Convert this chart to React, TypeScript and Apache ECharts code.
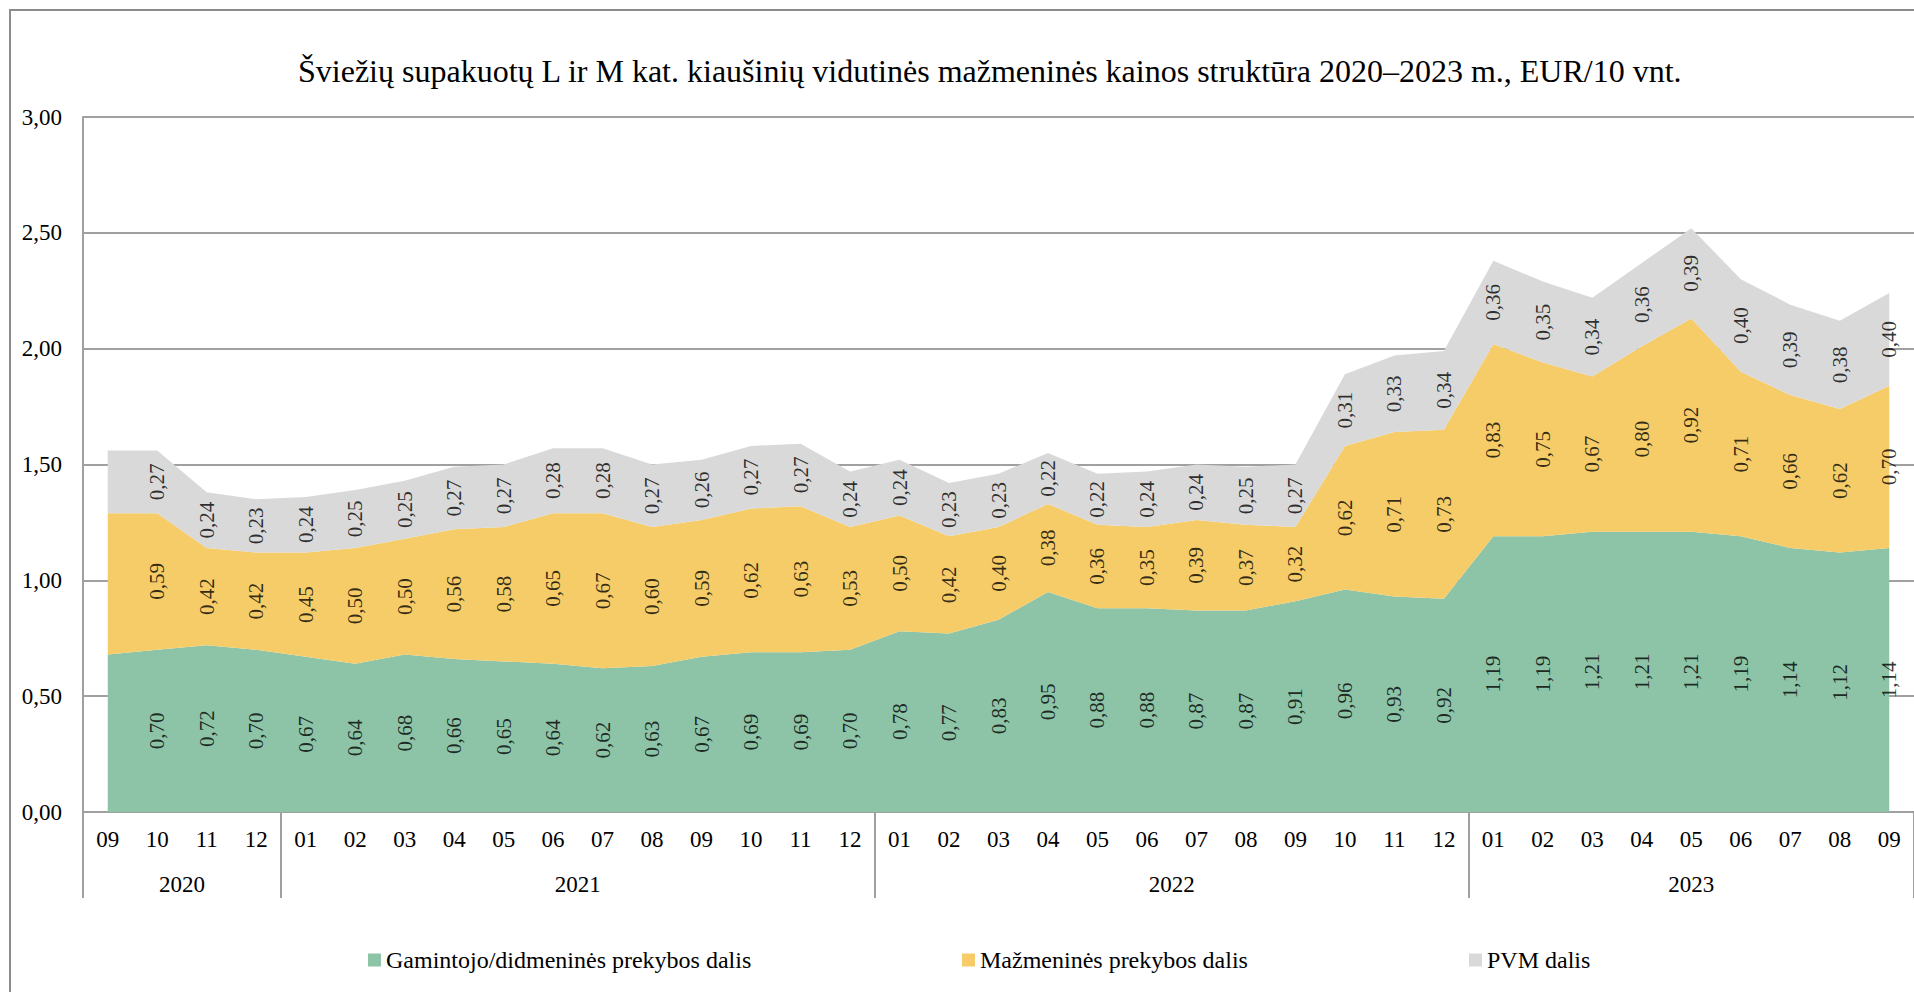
import React, { useEffect, useRef } from "react";
import * as echarts from "echarts";

const months = [
  "09", "10", "11", "12",
  "01", "02", "03", "04", "05", "06", "07", "08", "09", "10", "11", "12",
  "01", "02", "03", "04", "05", "06", "07", "08", "09", "10", "11", "12",
  "01", "02", "03", "04", "05", "06", "07", "08", "09",
];
const years = ["2020", "2021", "2022", "2023"];
const yearSpans = [4, 12, 12, 9];

const seriesNames = [
  "Gamintojo/didmeninės prekybos dalis",
  "Mažmeninės prekybos dalis",
  "PVM dalis",
];
const producer = [
  0.68, 0.70, 0.72, 0.70,
  0.67, 0.64, 0.68, 0.66, 0.65, 0.64, 0.62, 0.63, 0.67, 0.69, 0.69, 0.70,
  0.78, 0.77, 0.83, 0.95, 0.88, 0.88, 0.87, 0.87, 0.91, 0.96, 0.93, 0.92,
  1.19, 1.19, 1.21, 1.21, 1.21, 1.19, 1.14, 1.12, 1.14,
];
const retail = [
  0.61, 0.59, 0.42, 0.42,
  0.45, 0.50, 0.50, 0.56, 0.58, 0.65, 0.67, 0.60, 0.59, 0.62, 0.63, 0.53,
  0.50, 0.42, 0.40, 0.38, 0.36, 0.35, 0.39, 0.37, 0.32, 0.62, 0.71, 0.73,
  0.83, 0.75, 0.67, 0.80, 0.92, 0.71, 0.66, 0.62, 0.70,
];
const vat = [
  0.27, 0.27, 0.24, 0.23,
  0.24, 0.25, 0.25, 0.27, 0.27, 0.28, 0.28, 0.27, 0.26, 0.27, 0.27, 0.24,
  0.24, 0.23, 0.23, 0.22, 0.22, 0.24, 0.24, 0.25, 0.27, 0.31, 0.33, 0.34,
  0.36, 0.35, 0.34, 0.36, 0.39, 0.40, 0.39, 0.38, 0.40,
];
const yTicks = { min: 0, max: 3, interval: 0.5 };
const colors = ["#8DC3A7", "#F5CC68", "#D9D9D9"];
const titleText =
  "Šviežių supakuotų L ir M kat. kiaušinių vidutinės mažmeninės kainos struktūra 2020–2023 m., EUR/10 vnt.";

const FONT = '"Liberation Serif", "Times New Roman", serif';
const fmt = (v: number) => v.toFixed(2).replace(".", ",");

export default function App() {
  const ref = useRef<HTMLDivElement>(null);
  useEffect(() => {
    if (!ref.current) return;
    const chart = echarts.init(ref.current, undefined, { renderer: "svg" });
    const values = [producer, retail, vat];

    const bounds: number[] = [0];
    yearSpans.forEach((s) => bounds.push(bounds[bounds.length - 1] + s));
    const centres = yearSpans.map((s, i) => bounds[i] + s / 2);

    const areaSeries = values.map((vals, k) => ({
      name: seriesNames[k],
      type: "line",
      stack: "total",
      data: vals,
      symbol: "none",
      lineStyle: { width: 0 },
      areaStyle: { color: colors[k], opacity: 1 },
      itemStyle: { color: colors[k] },
      silent: true,
      z: 2,
    }));

    const labelSeries = values.map((vals, k) => ({
      name: "lbl" + k,
      type: "scatter",
      symbolSize: 0,
      silent: true,
      z: 5,
      data: vals
        .map((v, i) => {
          let base = 0;
          for (let j = 0; j < k; j++) base += values[j][i];
          return [i, base + v / 2, v];
        })
        .filter((d) => d[0] !== 0),
      label: {
        show: true,
        position: "inside",
        rotate: 90,
        color: "#000",
        fontFamily: FONT,
        fontSize: 21,
        formatter: (p: any) => fmt(p.value[2]),
      },
    }));

    const legendLefts = [363, 957, 1464];
    const legends = seriesNames.map((n, k) => ({
      data: [n],
      left: legendLefts[k],
      top: 943,
      itemWidth: 13,
      itemHeight: 13,
      itemGap: 0,
      icon: "rect",
      selectedMode: false,
      textStyle: { fontFamily: FONT, fontSize: 24, color: "#000" },
    }));

    chart.setOption({
      animation: false,
      backgroundColor: "#fff",
      title: {
        text: titleText,
        left: 293,
        top: 50,
        textStyle: { fontFamily: FONT, fontSize: 32, fontWeight: "normal", color: "#000" },
      },
      legend: legends,
      grid: { left: 83, top: 117, bottom: 180, right: -4, containLabel: false },
      xAxis: [
        {
          type: "category",
          data: months,
          boundaryGap: true,
          axisLine: { show: true, lineStyle: { color: "#a0a0a0", width: 2 } },
          axisTick: { show: false },
          axisLabel: {
            interval: 0,
            margin: 16,
            fontFamily: FONT,
            fontSize: 23,
            color: "#000",
          },
        },
        {
          type: "value",
          position: "bottom",
          min: 0,
          max: bounds[bounds.length - 1],
          axisLine: { show: false },
          splitLine: { show: false },
          axisTick: {
            show: true,
            customValues: bounds,
            length: 86,
            lineStyle: { color: "#a0a0a0", width: 2 },
          },
          axisLabel: {
            show: true,
            customValues: centres,
            margin: 61,
            fontFamily: FONT,
            fontSize: 23,
            color: "#000",
            formatter: (v: number) => {
              const idx = centres.findIndex((c) => Math.abs(c - v) < 1e-6);
              return idx >= 0 ? years[idx] : "";
            },
          },
        },
      ],
      yAxis: {
        type: "value",
        min: yTicks.min,
        max: yTicks.max,
        interval: yTicks.interval,
        axisLine: { show: true, lineStyle: { color: "#a0a0a0", width: 2 } },
        axisTick: { show: false },
        splitLine: { lineStyle: { color: "#a0a0a0", width: 2 } },
        axisLabel: {
          margin: 21,
          fontFamily: FONT,
          fontSize: 23,
          color: "#000",
          formatter: (v: number) => fmt(v),
        },
      },
      graphic: [
        {
          type: "rect",
          shape: { x: 10, y: 10, width: 2400, height: 2400 },
          style: { fill: "none", stroke: "#8c8c8c", lineWidth: 2 },
          silent: true,
          z: -1,
        },
      ],
      series: [...areaSeries, ...labelSeries],
    });
    return () => chart.dispose();
  }, []);
  return (
    <div
      ref={ref}
      style={{ position: "fixed", left: 0, top: 0, width: "1914px", height: "992px" }}
    />
  );
}
